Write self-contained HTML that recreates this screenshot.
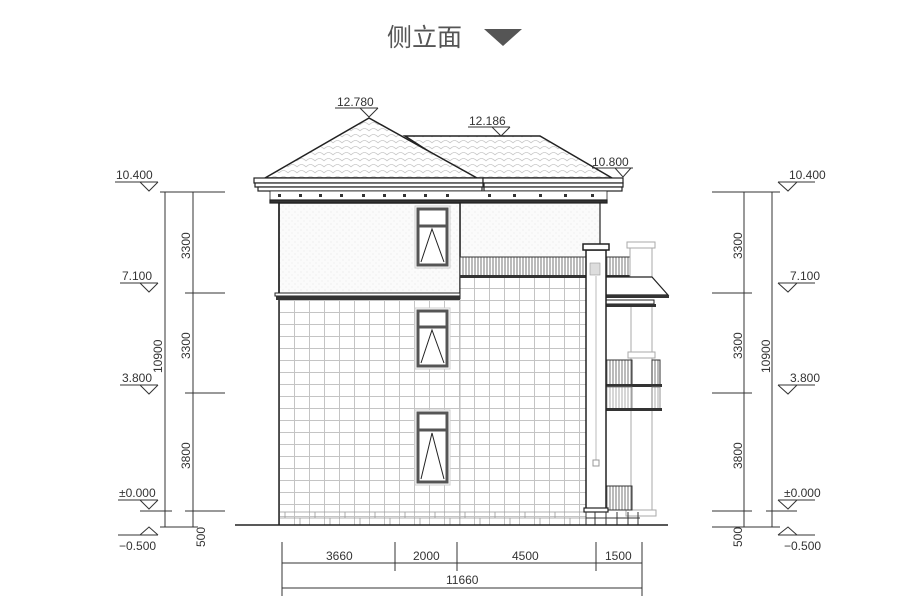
<!DOCTYPE html>
<html><head><meta charset="utf-8"><style>
html,body{margin:0;padding:0;background:#fff;}
svg{display:block;}
text{font-family:"Liberation Sans","Noto Sans CJK SC",sans-serif;fill:#333;}
</style></head><body>
<svg width="910" height="616" viewBox="0 0 910 616" xmlns="http://www.w3.org/2000/svg">
<defs>
<pattern id="tile" x="279" y="300" width="15" height="12" patternUnits="userSpaceOnUse">
<rect width="15" height="12" fill="#fff"/>
<path d="M0 0.5H15M0.5 0V12" stroke="#c4c4c4" stroke-width="1"/>
</pattern>
<pattern id="roof" width="9" height="6" patternUnits="userSpaceOnUse">
<rect width="9" height="6" fill="#fff"/>
<path d="M0 5 Q4.5 0 9 5" fill="none" stroke="#c8c8c8" stroke-width="0.8"/>
</pattern>
<pattern id="stucco" width="6" height="6" patternUnits="userSpaceOnUse">
<rect width="6" height="6" fill="#fbfbfb"/>
<circle cx="1" cy="2" r="0.5" fill="#ddd"/><circle cx="4" cy="5" r="0.5" fill="#e2e2e2"/>
</pattern>
<pattern id="rail" width="6" height="20" patternUnits="userSpaceOnUse">
<rect width="6" height="20" fill="#fff"/><path d="M1 0V20M4 0V20" stroke="#555" stroke-width="0.8"/>
</pattern>
<pattern id="railL" width="6" height="20" patternUnits="userSpaceOnUse">
<rect width="6" height="20" fill="#fff"/><path d="M1 0V20M4 0V20" stroke="#999" stroke-width="0.8"/>
</pattern>
</defs>

<!-- title -->
<text x="387" y="46" font-size="25" fill="#555" style="fill:#555">侧立面</text>
<polygon points="484,29 522,29 503,46" fill="#555"/>

<!-- roof -->
<polygon points="405,136 540,136 612,178 470,178" fill="url(#roof)" stroke="#222" stroke-width="1.5"/>
<polygon points="369,118 265,178 477,178" fill="url(#roof)" stroke="#222" stroke-width="1.5"/>
<!-- eaves -->
<g stroke="#222" fill="#fff" stroke-width="1.2">
<rect x="254" y="178" width="229" height="5"/>
<rect x="483" y="178" width="140" height="5"/>
<rect x="255" y="183" width="228" height="4"/>
<rect x="484" y="183" width="139" height="4"/>
<rect x="258" y="187" width="224" height="4"/>
<rect x="484" y="187" width="138" height="4"/>
<rect x="270" y="191" width="337" height="9" fill="#fff" stroke-width="0.8"/>
<rect x="270" y="200" width="337" height="3" fill="#333"/>
</g>
<g fill="#333">
<rect x="278" y="194" width="3" height="3"/><rect x="299" y="194" width="3" height="3"/><rect x="319" y="194" width="3" height="3"/><rect x="340" y="194" width="3" height="3"/><rect x="362" y="194" width="3" height="3"/><rect x="383" y="194" width="3" height="3"/><rect x="403" y="194" width="3" height="3"/><rect x="424" y="194" width="3" height="3"/><rect x="446" y="194" width="3" height="3"/><rect x="488" y="194" width="3" height="3"/><rect x="513" y="194" width="3" height="3"/><rect x="539" y="194" width="3" height="3"/><rect x="564" y="194" width="3" height="3"/><rect x="591" y="194" width="3" height="3"/>
</g>

<!-- upper walls -->
<rect x="460" y="203" width="140" height="56" fill="url(#stucco)" stroke="#222" stroke-width="1.2"/>
<rect x="279" y="203" width="181" height="92" fill="url(#stucco)" stroke="#222" stroke-width="1.5"/>
<!-- lower walls -->
<rect x="460" y="277" width="126" height="248" fill="url(#tile)" stroke="#222" stroke-width="1"/>
<rect x="279" y="299" width="181" height="226" fill="url(#tile)"/>
<line x1="279" y1="203" x2="279" y2="525" stroke="#222" stroke-width="1.5"/>
<line x1="460" y1="299" x2="460" y2="525" stroke="#bbb" stroke-width="1"/>
<!-- base stones -->
<g stroke="#999" stroke-width="0.8" fill="none">
<path d="M280 512H586M280 518H586M285 512V518M300 518V525M315 512V518M330 518V525M345 512V518M360 518V525M375 512V518M390 518V525M405 512V518M420 518V525M435 512V518M450 518V525M465 512V518M480 518V525M495 512V518M510 518V525M525 512V518M540 518V525M555 512V518M570 518V525"/>
</g>
<!-- band -->
<rect x="275" y="293" width="185" height="3" fill="#fff" stroke="#222" stroke-width="1"/>
<rect x="276" y="296" width="184" height="4" fill="#333"/>

<!-- balustrade -->
<rect x="460" y="257" width="172" height="20" fill="url(#rail)" stroke="#333" stroke-width="1"/>
<rect x="460" y="275" width="172" height="3" fill="#333"/>

<!-- right porch (light columns) -->
<g stroke="#aaa" fill="#fff" stroke-width="1">
<rect x="630" y="248" width="22" height="30"/>
<rect x="627" y="242" width="28" height="6"/>
<rect x="631" y="300" width="21" height="212"/>
<rect x="628" y="352" width="27" height="6"/>
<rect x="626" y="510" width="30" height="6"/>
</g>
<!-- porch roof -->
<polygon points="606,277 652,277 668,295 606,295" fill="#fff" stroke="#222" stroke-width="1.2"/>
<rect x="606" y="295" width="63" height="3" fill="#333"/>
<rect x="606" y="300" width="48" height="4" fill="#fff" stroke="#222" stroke-width="1"/>
<rect x="606" y="304" width="50" height="3" fill="#333"/>
<!-- balcony rails -->
<rect x="606" y="360" width="26" height="25" fill="url(#rail)" stroke="#333" stroke-width="1"/>
<rect x="652" y="360" width="8" height="25" fill="url(#rail)" stroke="#333" stroke-width="1"/>
<rect x="606" y="384" width="56" height="3" fill="#333"/>
<rect x="606" y="387" width="26" height="22" fill="url(#railL)" stroke="#777" stroke-width="0.8"/>
<rect x="652" y="387" width="8" height="22" fill="url(#railL)" stroke="#777" stroke-width="0.8"/>
<rect x="606" y="408" width="56" height="3" fill="#333"/>
<rect x="606" y="486" width="26" height="24" fill="url(#rail)" stroke="#333" stroke-width="1"/>

<!-- main column -->
<rect x="586" y="250" width="20" height="260" fill="#fff" stroke="#222" stroke-width="1.5"/>
<rect x="583" y="244" width="26" height="6" fill="#fff" stroke="#222" stroke-width="1.5"/>
<rect x="590" y="263" width="10" height="12" fill="#ddd" stroke="#999" stroke-width="0.6"/>
<line x1="596" y1="276" x2="596" y2="460" stroke="#bbb"/>
<rect x="593" y="460" width="6" height="6" fill="#fff" stroke="#999"/>
<rect x="584" y="508" width="24" height="4" fill="#fff" stroke="#222" stroke-width="1.2"/>
<g stroke="#333" stroke-width="1" fill="none">
<path d="M586 512V525M586 518H640M595 512V525M606 512V525M617 512V525M628 512V525M638 512V525"/>
</g>

<!-- windows -->
<g>
<rect x="415" y="206" width="35" height="62" fill="none" stroke="#ccc" stroke-width="1"/>
<rect x="418" y="209" width="29" height="56" fill="#fff" stroke="#555" stroke-width="3"/>
<line x1="418" y1="226" x2="447" y2="226" stroke="#555" stroke-width="3"/>
<path d="M421 262L432 229L444 262" fill="none" stroke="#222" stroke-width="1"/>
<rect x="415" y="308" width="35" height="61" fill="#fff" stroke="#ccc" stroke-width="1"/>
<rect x="418" y="311" width="29" height="55" fill="#fff" stroke="#555" stroke-width="3"/>
<line x1="418" y1="327" x2="447" y2="327" stroke="#555" stroke-width="3"/>
<path d="M421 363L432 330L444 363" fill="none" stroke="#222" stroke-width="1"/>
<rect x="415" y="410" width="35" height="75" fill="#fff" stroke="#ccc" stroke-width="1"/>
<rect x="418" y="413" width="29" height="69" fill="#fff" stroke="#555" stroke-width="3"/>
<line x1="418" y1="430" x2="447" y2="430" stroke="#555" stroke-width="3"/>
<path d="M421 479L432 433L444 479" fill="none" stroke="#222" stroke-width="1"/>
</g>

<!-- ground -->
<line x1="235" y1="525" x2="668" y2="525" stroke="#222" stroke-width="1.5"/>

<!-- roof elevation marks -->
<g stroke="#333" stroke-width="1" fill="none">
<path d="M335 108H378M360 108L369 117L378 108"/>
<path d="M468 127H510M492 127L501 136L510 127"/>
<path d="M592 168H633M615 168L623 177L631 168"/>
</g>
<g font-size="12">
<text x="337" y="106">12.780</text>
<text x="469" y="125">12.186</text>
<text x="592" y="166">10.800</text>
</g>

<!-- left dims -->
<g stroke="#333" stroke-width="1" fill="none">
<path d="M165 192V527M193 192V527"/>
<path d="M160 192H225M185 293H225M185 393H225M185 511H225M160 527H198"/>
<path d="M115 182H158M140 182L149 191L158 182"/>
<path d="M120 283H158M140 283L149 292L158 283"/>
<path d="M120 385H158M140 385L149 394L158 385"/>
<path d="M118 500H158M140 500L149 509L158 500M140 511H172"/>
<path d="M118 535H158M140 535L149 527L158 535"/>
</g>
<g font-size="12">
<text x="116" y="179">10.400</text>
<text x="122" y="280">7.100</text>
<text x="122" y="382">3.800</text>
<text x="119" y="497">±0.000</text>
<text x="119" y="550">−0.500</text>
<text transform="translate(190,259) rotate(-90)">3300</text>
<text transform="translate(190,359) rotate(-90)">3300</text>
<text transform="translate(190,469) rotate(-90)">3800</text>
<text transform="translate(162,373) rotate(-90)">10900</text>
<text transform="translate(205,547) rotate(-90)">500</text>
</g>

<!-- right dims -->
<g stroke="#333" stroke-width="1" fill="none">
<path d="M744 192V527M772 192V527"/>
<path d="M712 192H780M712 293H752M712 393H752M712 511H752M712 527H780"/>
<path d="M778 182H815M778 182L788 191L797 182"/>
<path d="M778 283H815M778 283L788 292L797 283"/>
<path d="M778 385H815M778 385L788 394L797 385"/>
<path d="M778 500H815M778 500L788 509L797 500M766 511H797"/>
<path d="M778 535H815M778 535L788 527L797 535"/>
</g>
<g font-size="12">
<text x="789" y="179">10.400</text>
<text x="790" y="280">7.100</text>
<text x="790" y="382">3.800</text>
<text x="784" y="497">±0.000</text>
<text x="784" y="550">−0.500</text>
<text transform="translate(742,259) rotate(-90)">3300</text>
<text transform="translate(742,359) rotate(-90)">3300</text>
<text transform="translate(742,469) rotate(-90)">3800</text>
<text transform="translate(770,373) rotate(-90)">10900</text>
<text transform="translate(742,547) rotate(-90)">500</text>
</g>

<!-- bottom dims -->
<g stroke="#333" stroke-width="1" fill="none">
<path d="M282 563H642M282 588H642"/>
<path d="M282 542V596M395 542V571M457 542V571M596 542V571M642 542V596"/>
</g>
<g font-size="12">
<text x="326" y="560">3660</text>
<text x="413" y="560">2000</text>
<text x="512" y="560">4500</text>
<text x="605" y="560">1500</text>
<text x="446" y="584">11660</text>
</g>
</svg>
</body></html>
